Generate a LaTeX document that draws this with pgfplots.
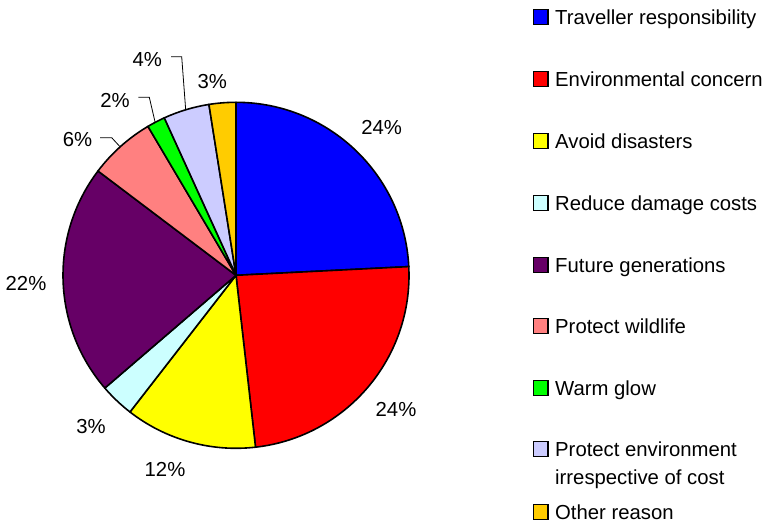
\documentclass[border=0pt]{standalone}
\usepackage{pgfplots}
\usepackage{pgfplotstable}
\pgfplotsset{compat=1.18}
\usepackage{fontspec}
\setmainfont{Liberation Sans}

% Excel-like palette
\definecolor{cBlue}{RGB}{0,0,255}
\definecolor{cRed}{RGB}{255,0,0}
\definecolor{cYellow}{RGB}{255,255,0}
\definecolor{cCyan}{RGB}{204,255,255}
\definecolor{cPurple}{RGB}{102,0,102}
\definecolor{cSalmon}{RGB}{255,128,128}
\definecolor{cGreen}{RGB}{0,255,0}
\definecolor{cLavender}{RGB}{204,204,255}
\definecolor{cOrange}{RGB}{255,204,0}

% shares in percent, clockwise from 12 o'clock
\pgfplotstableread{
share colour
24.2  cBlue
24.0  cRed
12.3  cYellow
3.2   cCyan
21.6  cPurple
6.2   cSalmon
1.7   cGreen
4.3   cLavender
2.5   cOrange
}\piedata

\begin{document}
\begin{tikzpicture}[font=\fontsize{20.3bp}{24bp}\selectfont]
\path[use as bounding box] (0,0) rectangle (764bp,-524bp);

\begin{axis}[
    hide axis,
    x=1bp, y=1bp,
    xmin=-180, xmax=180,
    ymin=-180, ymax=180,
    anchor=origin,
    at={(236bp,-275.3bp)},
    clip=false,
]
\pgfplotstablegetrowsof{\piedata}
\pgfmathtruncatemacro{\lastrow}{\pgfplotsretval-1}
\gdef\cumangle{90}
\pgfplotsinvokeforeach{0,...,\lastrow}{
    \pgfplotstablegetelem{#1}{share}\of\piedata
    \let\share\pgfplotsretval
    \pgfplotstablegetelem{#1}{colour}\of\piedata
    \let\col\pgfplotsretval
    \pgfmathsetmacro{\endangle}{\cumangle-3.6*\share}
    \edef\temp{\noexpand\filldraw[fill=\col, draw=black, line width=1.6bp, line join=round]
        (axis cs:0,0) -- (axis cs:{173*cos(\cumangle)},{173*sin(\cumangle)})
        arc[start angle=\cumangle, end angle=\endangle, radius=173bp] -- cycle;}
    \temp
    \global\let\cumangle\endangle
}
\end{axis}

\begin{scope}[x=1bp, y=-1bp]
  % percentage labels
  \node[inner sep=0] at (381.7,127.3) {24\%};
  \node[inner sep=0] at (396,409.3) {24\%};
  \node[inner sep=0] at (165,469.3) {12\%};
  \node[inner sep=0] at (91,426.7) {3\%};
  \node[inner sep=0] at (26,283.5) {22\%};
  \node[inner sep=0] at (77.5,139.3) {6\%};
  \node[inner sep=0] at (115,100) {2\%};
  \node[inner sep=0] at (147.3,59.3) {4\%};
  \node[inner sep=0] at (212.3,81.7) {3\%};
  % leader lines
  \draw[line width=0.8bp] (100,137.7) -- (111.7,137.7) -- (120,146.7);
  \draw[line width=0.8bp] (138.3,97.3) -- (149.3,97.3) -- (155,121.7);
  \draw[line width=0.8bp] (171,56.7) -- (181.7,56.7) -- (185.7,110);

  % legend
  \foreach \yy/\col/\txt in {
      17/cBlue/Traveller responsibility,
      79/cRed/Environmental concern,
      141/cYellow/Avoid disasters,
      203/cCyan/Reduce damage costs,
      265/cPurple/Future generations,
      326/cSalmon/Protect wildlife,
      388/cGreen/Warm glow,
      449/cLavender/Protect environment,
      512/cOrange/Other reason}{
    \filldraw[fill=\col, draw=black, line width=1.5bp] (533.5,\yy-7.5) rectangle (548,\yy+7.5);
    \node[anchor=base west, inner sep=0] at (555,\yy+7.3) {\txt};
  }
  \node[anchor=base west, inner sep=0] at (555,484) {irrespective of cost};
\end{scope}
\end{tikzpicture}
\end{document}
